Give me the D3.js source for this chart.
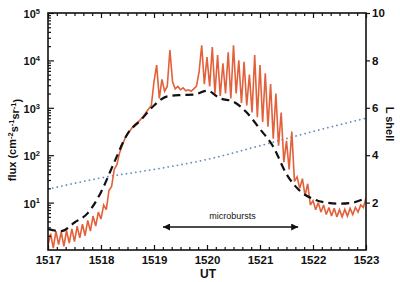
<!DOCTYPE html>
<html lang="en">
<head>
  <meta charset="UTF-8">
  <title>Flux and L shell vs UT</title>
  <script src="https://d3js.org/d3.v7.min.js"></script>
  <style>
    body { margin: 0; background: #fff; }
    svg { display: block; }
    text { font-family: "Liberation Sans", Arial, sans-serif; fill: #111; }
  </style>
</head>
<body>
<script>
  // UT axis (hhmm) and tick labels
  const utTicks = [1517, 1518, 1519, 1520, 1521, 1522, 1523];
  const fluxTicks = [1e1, 1e2, 1e3, 1e4, 1e5];
  const lTicks = [2, 4, 6, 8, 10];

  // measured flux, one sample every 3 s starting at 1517
  const fluxStart = 1517, fluxStep = 0.05;
  const flux = [
    1.26, 2.2, 1.1, 2.5, 1.3, 2.4, 1.2, 2.6, 1.4, 2.8,
    1.5, 3.2, 1.8, 3.5, 2.0, 4.2, 2.5, 5.2, 3.2, 6.3,
    4.5, 8.9, 7.1, 18, 22, 50, 63, 112, 160, 224,
    282, 331, 398, 457, 501, 575, 661, 794, 955, 1120,
    3550, 7940, 1580, 3980, 2240, 2820, 16600, 3550, 2510, 2820,
    2400, 2630, 2290, 2400, 2240, 2510, 2820, 5620, 20900, 3160,
    11700, 2820, 19100, 2000, 12900, 1780, 8710, 2000, 14800, 1580,
    20900, 2000, 10000, 1260, 9330, 1120, 5010, 794, 12900, 631,
    7940, 501, 5370, 398, 3160, 224, 2000, 158, 794, 71,
    200, 50, 316, 28, 35, 20, 32, 14, 25, 8.9,
    11, 7.1, 10, 6.3, 8.9, 5.6, 7.9, 5.2, 7.6, 5.0,
    7.1, 5.0, 7.2, 5.2, 7.6, 5.6, 7.9, 6.3, 8.9, 7.9,
    12.6
  ];

  // smooth model flux (dashed)
  const modelTime = [1517, 1517.25, 1517.5, 1517.75, 1518, 1518.25, 1518.5, 1518.75,
    1519, 1519.25, 1519.5, 1519.75, 1520, 1520.25, 1520.5, 1520.75,
    1521, 1521.25, 1521.5, 1521.75, 1522, 1522.25, 1522.5, 1522.75, 1523];
  const modelFlux = [2.75, 2.5, 3.8, 6.0, 16.6, 71, 282, 550,
    1120, 1740, 1860, 1900, 2290, 1580, 1350, 794,
    355, 151, 40, 17.8, 12, 10, 9.5, 10, 12.6];

  // L shell (dotted)
  const lTime = [1517, 1518, 1519, 1520, 1521, 1522, 1523];
  const lShell = [2.57, 3.04, 3.4, 3.82, 4.4, 5.0, 5.56];

  // microburst interval
  const burstRange = [1519.17, 1521.72];
  const burstLabel = "microbursts";

  const width = 400, height = 282;
  const mLeft = 48, mRight = 366, mTop = 13, mBottom = 250;

  const svg = d3.select("body").append("svg")
    .attr("width", width)
    .attr("height", height);

  const x = d3.scaleLinear().domain([1517, 1523]).range([mLeft, mRight]);
  const y = d3.scaleLog().domain([1, 1e5]).range([mBottom, mTop]);
  const yL = d3.scaleLinear().domain([0, 10]).range([mBottom, mTop]);

  const defs = svg.append("defs");
  defs.append("clipPath").attr("id", "plot")
    .append("rect")
    .attr("x", mLeft).attr("y", mTop)
    .attr("width", mRight - mLeft).attr("height", mBottom - mTop);

  const plot = svg.append("g").attr("clip-path", "url(#plot)");

  // L shell dotted line
  plot.append("path")
    .datum(lTime.map((t, i) => [t, lShell[i]]))
    .attr("fill", "none")
    .attr("stroke", "#6f8dc2")
    .attr("stroke-width", 1.8)
    .attr("stroke-linecap", "round")
    .attr("stroke-dasharray", "0.1 4.6")
    .attr("d", d3.line().x(d => x(d[0])).y(d => yL(d[1])).curve(d3.curveMonotoneX));

  // measured flux
  plot.append("path")
    .datum(flux)
    .attr("fill", "none")
    .attr("stroke", "#e2603a")
    .attr("stroke-width", 1.6)
    .attr("stroke-linejoin", "miter")
    .attr("stroke-miterlimit", 3)
    .attr("d", d3.line().x((d, i) => x(fluxStart + i * fluxStep)).y(d => y(d)));

  // model flux
  plot.append("path")
    .datum(modelTime.map((t, i) => [t, modelFlux[i]]))
    .attr("fill", "none")
    .attr("stroke", "#111")
    .attr("stroke-width", 2.2)
    .attr("stroke-dasharray", "8 5")
    .attr("d", d3.line().x(d => x(d[0])).y(d => y(d[1])).curve(d3.curveMonotoneX));

  // microbursts arrow
  const ay = 227;
  defs.selectAll("marker")
    .data(["start", "end"])
    .join("marker")
    .attr("id", d => "arrow-" + d)
    .attr("viewBox", "0 0 10 10")
    .attr("refX", 10).attr("refY", 5)
    .attr("markerWidth", 14).attr("markerHeight", 7)
    .attr("markerUnits", "userSpaceOnUse")
    .attr("orient", d => d === "start" ? "auto-start-reverse" : "auto")
    .append("path")
    .attr("d", "M0,0L10,5L0,10Z")
    .attr("fill", "#111");

  svg.append("line")
    .attr("x1", x(burstRange[0])).attr("x2", x(burstRange[1]))
    .attr("y1", ay).attr("y2", ay)
    .attr("stroke", "#111")
    .attr("stroke-width", 1.4)
    .attr("marker-start", "url(#arrow-start)")
    .attr("marker-end", "url(#arrow-end)");

  svg.append("text")
    .attr("x", x(d3.mean(burstRange)) + 2)
    .attr("y", 219)
    .attr("text-anchor", "middle")
    .attr("font-size", 9)
    .text(burstLabel);

  // axes
  const minorUT = d3.range(1517, 1523.001, 1 / 6).filter(t => Math.abs(t - Math.round(t)) > 0.01);
  const minorFlux = [];
  [1, 10, 100, 1000, 10000].forEach(b => d3.range(2, 10).forEach(m => minorFlux.push(b * m)));

  const axes = svg.append("g");

  // bottom
  const gx = axes.append("g").attr("transform", `translate(0,${mBottom})`)
    .call(d3.axisBottom(x).tickValues(utTicks).tickSize(-5).tickPadding(6).tickFormat(d3.format("d")));
  gx.selectAll("text").attr("font-size", 11.5).attr("font-weight", "bold");
  axes.append("g").attr("transform", `translate(0,${mBottom})`)
    .call(d3.axisBottom(x).tickValues(minorUT).tickSize(-3).tickFormat(""));

  // top
  axes.append("g").attr("transform", `translate(0,${mTop})`)
    .call(d3.axisTop(x).tickValues(utTicks).tickSize(-5).tickFormat(""));
  axes.append("g").attr("transform", `translate(0,${mTop})`)
    .call(d3.axisTop(x).tickValues(minorUT).tickSize(-3).tickFormat(""));

  // left (log flux)
  const gy = axes.append("g").attr("transform", `translate(${mLeft},0)`)
    .call(d3.axisLeft(y).tickValues(fluxTicks).tickSize(-6).tickPadding(8).tickFormat(() => ""));
  gy.selectAll(".tick text").each(function (d) {
    const t = d3.select(this).attr("font-size", 11).attr("font-weight", "bold").attr("dy", "0.4em");
    t.append("tspan").text("10");
    t.append("tspan").attr("dy", "-0.55em").attr("font-size", 7.5).text(Math.round(Math.log10(d)));
  });
  axes.append("g").attr("transform", `translate(${mLeft},0)`)
    .call(d3.axisLeft(y).tickValues(minorFlux).tickSize(-3).tickFormat(""));

  // right (L shell)
  const gr = axes.append("g").attr("transform", `translate(${mRight},0)`)
    .call(d3.axisRight(yL).tickValues(lTicks).tickSize(4).tickPadding(2));
  gr.selectAll("text").attr("font-size", 11.5).attr("font-weight", "bold");

  axes.selectAll(".domain").remove();
  axes.selectAll(".tick line").attr("stroke", "#111").attr("stroke-width", 1.2);

  // frame
  svg.append("rect")
    .attr("x", mLeft).attr("y", mTop)
    .attr("width", mRight - mLeft).attr("height", mBottom - mTop)
    .attr("fill", "none")
    .attr("stroke", "#111")
    .attr("stroke-width", 1.6);

  // axis titles
  const fl = svg.append("text")
    .attr("transform", "translate(16,140) rotate(-90)")
    .attr("text-anchor", "middle")
    .attr("font-size", 11)
    .attr("font-weight", "bold");
  fl.append("tspan").text("flux (cm");
  fl.append("tspan").attr("dy", "-0.45em").attr("font-size", 7.5).text("-2");
  fl.append("tspan").attr("dy", "0.45em").text("s");
  fl.append("tspan").attr("dy", "-0.45em").attr("font-size", 7.5).text("-1");
  fl.append("tspan").attr("dy", "0.45em").text("sr");
  fl.append("tspan").attr("dy", "-0.45em").attr("font-size", 7.5).text("-1");
  fl.append("tspan").attr("dy", "0.45em").text(")");

  svg.append("text")
    .attr("transform", "translate(386,124) rotate(90)")
    .attr("text-anchor", "middle")
    .attr("font-size", 11)
    .attr("font-weight", "bold")
    .text("L shell");

  svg.append("text")
    .attr("x", 208).attr("y", 278)
    .attr("text-anchor", "middle")
    .attr("font-size", 12)
    .attr("font-weight", "bold")
    .text("UT");
</script>
</body>
</html>
